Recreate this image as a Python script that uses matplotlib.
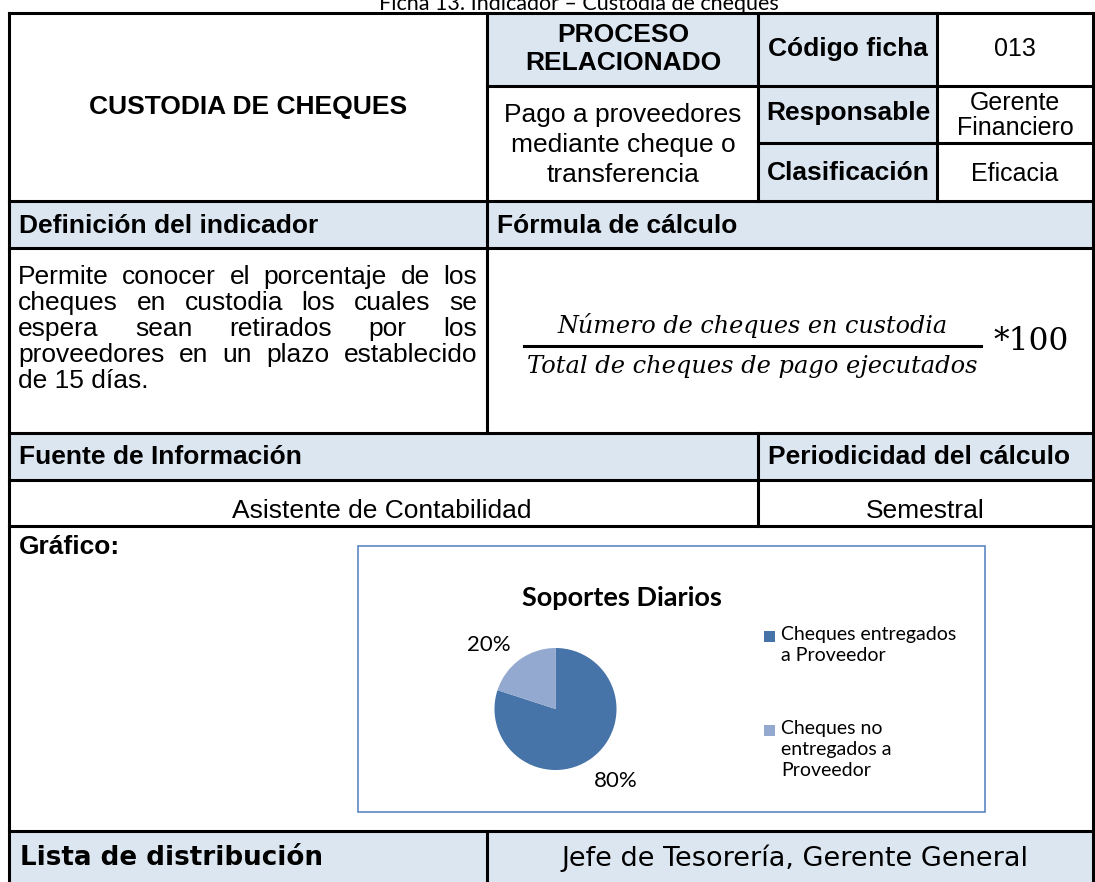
import matplotlib.pyplot as plt
from matplotlib.patches import Rectangle

# ---- data ----
caption = 'Ficha 13. Indicador – Custodia de cheques'
indicador = 'CUSTODIA DE CHEQUES'
proceso = ['Pago a proveedores', 'mediante cheque o', 'transferencia']
codigo = '013'
responsable = ['Gerente', 'Financiero']
clasificacion = 'Eficacia'
definicion = ['Permite conocer el porcentaje de los',
              'cheques en custodia  los cuales se',
              'espera sean retirados por los',
              'proveedores en un plazo establecido',
              'de 15 días.']
numerador = 'Número de cheques en custodia'
denominador = 'Total de cheques de pago ejecutados'
fuente = 'Asistente de Contabilidad'
periodicidad = 'Semestral'
distribucion = 'Jefe de Tesorería, Gerente General'

pie_title = 'Soportes Diarios'
pie_labels = ['Cheques entregados\na Proveedor', 'Cheques no\nentregados a\nProveedor']
pie_values = [80, 20]
pie_colors = ['#4673A8', '#93A9CF']

W, H = 1095, 882
fig = plt.figure(figsize=(W / 100, H / 100), dpi=100)
ax = fig.add_axes([0, 0, 1, 1])
ax.set_xlim(0, W)
ax.set_ylim(H, 0)
ax.axis('off')

BLUE = '#DCE6F1'
LW = 2.2
L, R = 8.5, 1093
sans = 'Liberation Sans'
FS = 19


def fill(x0, y0, x1, y1):
    ax.add_patch(Rectangle((x0, y0), x1 - x0, y1 - y0, fc=BLUE, ec='none', zorder=0))


def hline(y, x0=L, x1=R):
    ax.plot([x0, x1], [y, y], color='black', lw=LW, solid_capstyle='projecting', zorder=3)


def vline(x, y0, y1):
    ax.plot([x, x], [y0, y1], color='black', lw=LW, solid_capstyle='projecting', zorder=3)


def txt(x, y, s, size=FS, bold=False, ha='center', **kw):
    return ax.text(x, y, s, fontsize=size, fontweight='bold' if bold else 'normal',
                   ha=ha, va='center', family=kw.pop('family', sans), zorder=4, **kw)


# fills
fill(487, 13, 758, 86)
fill(758, 13, 937, 201)
fill(L, 201, R, 248)
fill(L, 433, R, 480)
fill(L, 831, R, H)

# grid
hline(13)
vline(L, 13, H)
vline(R, 13, H)
vline(487, 13, 433)
vline(758, 13, 201)
vline(937, 13, 201)
hline(86, 487, R)
hline(143, 758, R)
for y in [201, 248, 433, 480, 526, 831]:
    hline(y)
vline(758, 433, 526)
vline(487, 831, H)

# caption (clipped at the top of the page)
ax.text(579, 10, caption, fontsize=15.5, family='Lato', ha='center', va='baseline')

# top block
txt(248, 107, indicador, bold=True)
txt(623, 35, 'PROCESO', bold=True)
txt(623, 63, 'RELACIONADO', bold=True)
for i, s in enumerate(proceso):
    txt(623, 115 + i * 30, s)
txt(848, 49, 'Código ficha', bold=True)
txt(1015, 49, codigo, size=18)
txt(848, 113, 'Responsable', bold=True)
for i, s in enumerate(responsable):
    txt(1015, 103 + i * 25, s, size=18)
txt(848, 173, 'Clasificación', bold=True)
txt(1015, 174, clasificacion, size=18)

# headers
txt(19, 226, 'Definición del indicador', bold=True, ha='left')
txt(497, 226, 'Fórmula de cálculo', bold=True, ha='left')
txt(19, 457, 'Fuente de Información', bold=True, ha='left')
txt(768, 457, 'Periodicidad del cálculo', bold=True, ha='left')
txt(382, 511, fuente)
txt(925, 511, periodicidad)
txt(19, 547, 'Gráfico:', bold=True, ha='left')

# justified definition paragraph
fig.canvas.draw()
rend = fig.canvas.get_renderer()
x0, x1 = 18, 477
for i, line in enumerate(definicion):
    y = 277 + i * 26
    if i == len(definicion) - 1:
        txt(x0, y, line, ha='left')
        continue
    words = line.split()
    items = [txt(0, y, w, ha='left') for w in words]
    widths = [t.get_window_extent(rend).width for t in items]
    gap = (x1 - x0 - sum(widths)) / (len(words) - 1)
    x = x0
    for t, w in zip(items, widths):
        t.set_x(x)
        x += w + gap

# formula
ax.text(753, 326, numerador, fontsize=17.2, family='DejaVu Serif', style='italic',
        ha='center', va='center')
ax.text(752, 366, denominador, fontsize=17.4, family='DejaVu Serif', style='italic',
        ha='center', va='center')
ax.plot([524, 981], [346, 346], color='black', lw=2.2)
ax.text(1031, 341, '*100', fontsize=22.5, family='DejaVu Serif', ha='center', va='center')

# bottom row
ax.text(20, 858, 'Lista de distribución', fontsize=18.8, family='DejaVu Sans',
        fontweight='bold', ha='left', va='center')
ax.text(795, 858, distribucion, fontsize=19.5, family='DejaVu Sans',
        ha='center', va='center')

# chart box
ax.add_patch(Rectangle((358, 546), 985 - 358, 812 - 546, fc='white', ec='#5B87C2',
                       lw=1.2, zorder=2))
ax.text(622, 598, pie_title, fontsize=19.5, family='Lato', fontweight='bold',
        ha='center', va='center', zorder=4)

cx, cy, r = 555.5, 709, 61
pax = fig.add_axes([(cx - r) / W, 1 - (cy + r) / H, 2 * r / W, 2 * r / H])
pax.pie(pie_values, colors=pie_colors, startangle=90, counterclock=False,
        radius=1, wedgeprops=dict(linewidth=0))
pax.set_xlim(-1, 1)
pax.set_ylim(-1, 1)
pax.set_aspect('auto')
pax.axis('off')

ax.text(489, 645, f'{pie_values[1]}%', fontsize=16, family='Lato', ha='center',
        va='center', zorder=4)
ax.text(616, 781, f'{pie_values[0]}%', fontsize=16, family='Lato', ha='center',
        va='center', zorder=4)

# legend
for lab, col, y in zip(pie_labels, pie_colors, [636, 730]):
    ax.add_patch(Rectangle((764, y - 5.5), 11, 11, fc=col, ec='none', zorder=4))
    ax.text(781, y - 10, lab, fontsize=14, family='Lato', ha='left', va='top',
            linespacing=1.3, zorder=4)

fig.savefig('out.png', dpi=100)
